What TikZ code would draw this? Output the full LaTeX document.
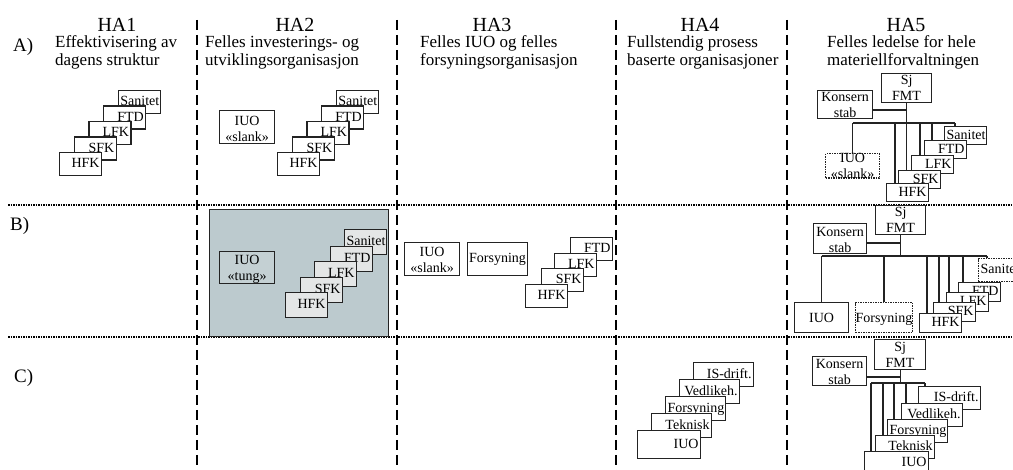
\documentclass[tikz,border=0pt]{standalone}
\usepackage{fontspec}
\setmainfont{Liberation Serif}
\pgfdeclarelayer{under}
\pgfsetlayers{under,main}
\definecolor{panelfill}{RGB}{188,202,206}
\definecolor{tungfill}{RGB}{196,208,211}
\definecolor{unitgrey}{RGB}{228,230,230}
\definecolor{edge}{RGB}{35,35,35}
\tikzset{
  colsep/.style={line width=2.2pt, dash pattern=on 10pt off 5pt},
  rowsep/.style={line width=1.6pt, dash pattern=on 1.6pt off 0.9pt},
  headtxt/.style={font=\fontsize{20}{22}\selectfont, anchor=base, inner sep=0pt},
  subtxt/.style={font=\fontsize{17}{18}\selectfont, anchor=base west, inner sep=0pt},
  rowtxt/.style={font=\fontsize{19}{20}\selectfont, anchor=base west, inner sep=0pt},
  unit/.style={draw=edge, fill=white, line width=1.2pt, anchor=north west,
    font=\fontsize{14}{15}\selectfont, align=right, text width=38pt,
    inner xsep=2pt, inner ysep=0pt, minimum height=23pt,
    text height=10pt, text depth=3pt},
  twoline/.style={draw=edge, fill=white, line width=1.2pt, anchor=north west,
    font=\fontsize{14}{16}\selectfont, align=center, inner sep=0pt},
  dotframe/.style={dash pattern=on 1.5pt off 1pt},
  link/.style={draw=edge, line width=1.2pt},
}
\begin{document}
\begin{tikzpicture}[x=1pt,y=-1pt]
\path[use as bounding box] (0,0) rectangle (1013,470);
\clip (0,0) rectangle (1013,470);

% ---------- grid ----------
\begin{pgfonlayer}{under}
\foreach \x in {197,397,616,787} \draw[colsep] (\x,20) -- (\x,470);
\foreach \y in {205,337} \draw[rowsep] (8,\y) -- (1013,\y);
\end{pgfonlayer}

% ---------- headings ----------
\node[headtxt] (h1) at (117,32) {HA1};
\node[headtxt] (h2) at (295,32) {HA2};
\node[headtxt] (h3) at (492,32) {HA3};
\node[headtxt] (h4) at (700,32) {HA4};
\node[headtxt] (h5) at (906,32) {HA5};
\node[subtxt] (s1a) at (55,48) {Effektivisering av};
\node[subtxt] (s1b) at (55,66) {dagens struktur};
\node[subtxt] (s2a) at (205,48) {Felles investerings- og};
\node[subtxt] (s2b) at (205,66) {utviklingsorganisasjon};
\node[subtxt] (s3a) at (420,48) {Felles IUO og felles};
\node[subtxt] (s3b) at (420,66) {forsyningsorganisasjon};
\node[subtxt] (s4a) at (627,48) {Fullstendig prosess};
\node[subtxt] (s4b) at (627,66) {baserte organisasjoner};
\node[subtxt] (s5a) at (827,48) {Felles ledelse for hele};
\node[subtxt] (s5b) at (827,66) {materiellforvaltningen};
\node[rowtxt] (ra) at (13,52) {A)};
\node[rowtxt] (rb) at (10,231) {B)};
\node[rowtxt] (rc) at (14,383) {C)};

% ---------- HA1 / A ----------
\node[unit] (san1) at (117.8,90) {Sanitet};
\node[unit] (ftd1) at (103.1,105.5) {FTD};
\node[unit] (lfk1) at (88.4,121) {LFK};
\node[unit] (sfk1) at (73.7,136.5) {SFK};
\node[unit] (hfk1) at (59,152) {HFK};

% ---------- HA2 / A ----------
% two-line boxes: text height = depth of the last baseline below the top edge
\node[twoline, minimum width=55pt, text height=31pt, text depth=2pt] (iuo2) at (219,110) {IUO\\«slank»};
\node[unit] (san2) at (335.8,90) {Sanitet};
\node[unit] (ftd2) at (321.1,105.5) {FTD};
\node[unit] (lfk2) at (306.4,121) {LFK};
\node[unit] (sfk2) at (291.7,136.5) {SFK};
\node[unit] (hfk2) at (277,152) {HFK};

% ---------- HA2 / B ----------
\node[draw=edge, fill=panelfill, line width=1.2pt, anchor=north west,
  minimum width=179pt, minimum height=127pt, inner sep=0pt] (panel) at (209,209) {};
\node[twoline, fill=tungfill, minimum width=55pt, text height=29pt, text depth=3pt] (iuoT) at (219,251) {IUO\\«tung»};
\node[unit, fill=unitgrey, minimum height=25pt] (san2b) at (344,229) {Sanitet};
\node[unit, fill=unitgrey, minimum height=25pt] (ftd2b) at (330,246) {FTD};
\node[unit, fill=unitgrey, minimum height=25pt] (lfk2b) at (314,261) {LFK};
\node[unit, fill=unitgrey, minimum height=25pt] (sfk2b) at (300,277) {SFK};
\node[unit, fill=unitgrey, minimum height=25pt] (hfk2b) at (285,292) {HFK};

% ---------- HA3 / B ----------
\node[twoline, minimum width=55pt, text height=30pt, text depth=3pt] (iuo3) at (404,242) {IUO\\«slank»};
\node[twoline, minimum width=60pt, text height=20pt, text depth=13pt] (fors3) at (467,242) {Forsyning};
\node[unit] (ftd3) at (570,237) {FTD};
\node[unit] (lfk3) at (554,253) {LFK};
\node[unit] (sfk3) at (541,268) {SFK};
\node[unit] (hfk3) at (525,284) {HFK};

% ---------- HA4 / C ----------
\node[unit, text width=56pt, minimum height=24pt] (is4) at (693,362) {IS-drift.};
\node[unit, text width=56pt, minimum height=24pt] (ved4) at (679,379) {Vedlikeh.};
\node[unit, text width=56pt, minimum height=24pt] (fors4) at (665,396) {Forsyning};
\node[unit, text width=56pt, minimum height=24pt] (tek4) at (651,413) {Teknisk};
\node[unit, text width=59pt, minimum height=28pt] (iuo4) at (637,430) {IUO};

% ---------- HA5 / A ----------
\node[twoline, minimum width=50pt, text height=27pt, text depth=2pt] (sjA) at (881,73) {Sj\\FMT};
\node[twoline, minimum width=55pt, text height=27pt, text depth=1pt] (konsA) at (817,90) {Konsern\\stab};
\node[twoline, dotframe, minimum width=54pt, text height=24.5pt, text depth=0pt] (iuoA) at (825,153) {IUO\\«slank»};
\node[unit, minimum height=18pt] (sanA) at (944,126) {Sanitet};
\node[unit, minimum height=18pt] (ftdA) at (924,140) {FTD};
\node[unit, minimum height=18pt] (lfkA) at (911,155) {LFK};
\node[unit, minimum height=18pt] (sfkA) at (898,170) {SFK};
\node[unit, minimum height=18pt] (hfkA) at (886,183) {HFK};
\coordinate (yKA) at (0,110);
\coordinate (busA) at (0,123);
\begin{pgfonlayer}{under}
\draw[link] (konsA.east |- yKA) -- (sjA.south |- yKA);
\draw[link] (sjA.south) -- (sjA.south |- sfkA.north);
\draw[link] (iuoA.north |- busA) -- ([xshift=11pt]sanA.north west |- busA);
\draw[link] (iuoA.north) -- (iuoA.north |- busA);
\draw[link] ([xshift=9pt]hfkA.north west) -- ([xshift=9pt]hfkA.north west |- busA);
\draw[link] ([xshift=9pt]lfkA.north west) -- ([xshift=9pt]lfkA.north west |- busA);
\draw[link] ([xshift=8pt]ftdA.north west) -- ([xshift=8pt]ftdA.north west |- busA);
\draw[link] ([xshift=11pt]sanA.north west) -- ([xshift=11pt]sanA.north west |- busA);
\end{pgfonlayer}

% ---------- HA5 / B ----------
\node[twoline, minimum width=50pt, text height=27pt, text depth=2pt] (sjB) at (875,205) {Sj\\FMT};
\node[twoline, minimum width=53pt, text height=29pt, text depth=1pt] (konsB) at (813,223) {Konsern\\stab};
\node[twoline, minimum width=54pt, text height=20pt, text depth=10pt] (iuoB) at (794,302) {IUO};
\node[twoline, dotframe, minimum width=55pt, text height=20pt, text depth=10pt] (forsB) at (855,302) {Forsyning};
\node[unit, dotframe, align=left, text width=50pt] (sanB) at (978,258) {Sanitet};
\node[unit, minimum height=19pt] (ftdB) at (958,282) {FTD};
\node[unit, minimum height=19pt] (lfkB) at (946,292) {LFK};
\node[unit, minimum height=19pt] (sfkB) at (933,302) {SFK};
\node[unit, minimum height=19pt] (hfkB) at (919,313) {HFK};
\coordinate (yKB) at (0,243);
\coordinate (busB) at (0,256);
\begin{pgfonlayer}{under}
\draw[link] (konsB.east |- yKB) -- (sjB.south |- yKB);
\draw[link] (sjB.south) -- (sjB.south |- busB);
\draw[link] (iuoB.north |- busB) -- ([xshift=9pt]sanB.north west |- busB);
\draw[link] (iuoB.north) -- (iuoB.north |- busB);
\draw[link] (forsB.north) -- (forsB.north |- busB);
\draw[link] ([xshift=8pt]hfkB.north west) -- ([xshift=8pt]hfkB.north west |- busB);
\draw[link] ([xshift=6pt]sfkB.north west) -- ([xshift=6pt]sfkB.north west |- busB);
\draw[link] ([xshift=3pt]lfkB.north west) -- ([xshift=3pt]lfkB.north west |- busB);
\draw[link] ([xshift=5pt]ftdB.north west) -- ([xshift=5pt]ftdB.north west |- busB);
\draw[link] ([xshift=9pt]sanB.north west) -- ([xshift=9pt]sanB.north west |- busB);
\end{pgfonlayer}

% ---------- HA5 / C ----------
\node[twoline, minimum width=51pt, text height=28pt, text depth=2pt] (sjC) at (874,339) {Sj\\FMT};
\node[twoline, minimum width=54pt, text height=28pt, text depth=1pt] (konsC) at (812,356) {Konsern\\stab};
\node[unit, text width=58pt] (isC) at (918,386) {IS-drift.};
\node[unit, text width=57pt] (vedC) at (901,403) {Vedlikeh.};
\node[unit, text width=56pt] (forC) at (887,419) {Forsyning};
\node[unit, text width=55pt] (tekC) at (875,435) {Teknisk};
\node[unit, text width=60pt] (iuoC) at (864,451) {IUO};
\coordinate (yKC) at (0,377);
\coordinate (busC) at (0,383);
\begin{pgfonlayer}{under}
\draw[link] (konsC.east |- yKC) -- (sjC.south |- yKC);
\draw[link] (sjC.south) -- (sjC.south |- busC);
\draw[link] ([xshift=7pt]iuoC.north west |- busC) -- ([xshift=7pt]isC.north west |- busC);
\draw[link] ([xshift=7pt]iuoC.north west) -- ([xshift=7pt]iuoC.north west |- busC);
\draw[link] ([xshift=8pt]tekC.north west) -- ([xshift=8pt]tekC.north west |- busC);
\draw[link] ([xshift=7pt]forC.north west) -- ([xshift=7pt]forC.north west |- busC);
\draw[link] ([xshift=5pt]vedC.north west) -- ([xshift=5pt]vedC.north west |- busC);
\draw[link] ([xshift=7pt]isC.north west) -- ([xshift=7pt]isC.north west |- busC);
\end{pgfonlayer}
\end{tikzpicture}
\end{document}
